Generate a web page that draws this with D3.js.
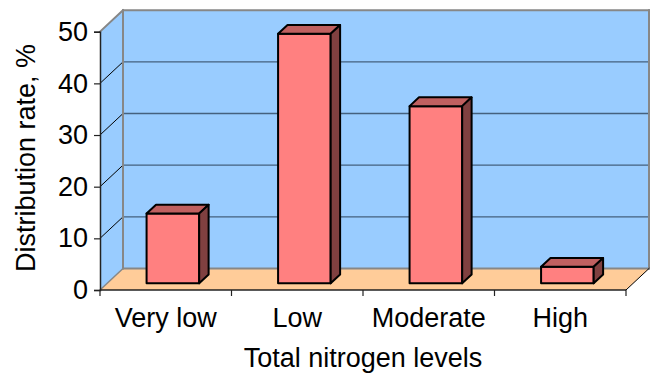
<!DOCTYPE html>
<html>
<head>
<meta charset="utf-8">
<script src="https://cdn.jsdelivr.net/npm/d3@7/dist/d3.min.js"></script>
<style>
  html, body { margin: 0; padding: 0; background: #ffffff; }
  svg { display: block; }
  text { font-family: "Liberation Sans", Arial, sans-serif; fill: #000; }
</style>
</head>
<body>
<svg id="chart" width="657" height="373"></svg>
<script>
// Distribution of soil total nitrogen levels
const categories = ["Very low", "Low", "Moderate", "High"];
const values = [13.5, 48.3, 34.3, 3.2];
const yTicks = [0, 10, 20, 30, 40, 50];
const yTitle = "Distribution rate, %";
const xTitle = "Total nitrogen levels";

const W = 657, H = 373;
const FONT = 27;
const svg = d3.select("#chart");

// front plane of the 3-D box
const plot = { left: 100, right: 626, bottom: 290, top: 31.7 };
// offset from the front plane to the back wall
const depth = { dx: 23, dy: -21.5 };
// bars sit between these fractions of the depth
const barFront = 0.31, barBack = 0.72;

const x = d3.scaleBand()
  .domain(categories)
  .range([plot.left, plot.right])
  .paddingInner(0.6)
  .paddingOuter(0.3);

const y = d3.scaleLinear()
  .domain([0, 50])
  .range([plot.bottom, plot.top]);

const P = (px, py, f) => [px + f * depth.dx, py + f * depth.dy];
const poly = pts => pts.map(p => p.join(",")).join(" ");

// floor
svg.append("polygon")
  .attr("points", poly([
    P(plot.left, y(0), 0), P(plot.right, y(0), 0),
    P(plot.right, y(0), 1), P(plot.left, y(0), 1)
  ]))
  .attr("fill", "#FFCC99");

// left side wall
svg.append("polygon")
  .attr("points", poly([
    P(plot.left, y(50), 0), P(plot.left, y(50), 1),
    P(plot.left, y(0), 1), P(plot.left, y(0), 0)
  ]))
  .attr("fill", "#99CCFF");

// back wall
svg.append("polygon")
  .attr("points", poly([
    P(plot.left, y(50), 1), P(plot.right, y(50), 1),
    P(plot.right, y(0), 1), P(plot.left, y(0), 1)
  ]))
  .attr("fill", "#99CCFF");

// gridlines on the back wall and side wall
const gridVals = yTicks.filter(v => v > 0 && v < 50);
svg.selectAll("line.grid-back")
  .data(gridVals)
  .join("line")
  .attr("class", "grid-back")
  .attr("x1", P(plot.left, 0, 1)[0])
  .attr("x2", P(plot.right, 0, 1)[0])
  .attr("y1", d => P(0, y(d), 1)[1])
  .attr("y2", d => P(0, y(d), 1)[1])
  .attr("stroke", "#45617e")
  .attr("stroke-width", 1.3);

svg.selectAll("line.grid-side")
  .data(gridVals)
  .join("line")
  .attr("class", "grid-side")
  .attr("x1", plot.left)
  .attr("y1", d => y(d))
  .attr("x2", P(plot.left, 0, 1)[0])
  .attr("y2", d => P(0, y(d), 1)[1])
  .attr("stroke", "#000")
  .attr("stroke-width", 1);

// wall edges
const edge = (a, b, col, w) => svg.append("line")
  .attr("x1", a[0]).attr("y1", a[1]).attr("x2", b[0]).attr("y2", b[1])
  .attr("stroke", col).attr("stroke-width", w).attr("stroke-linecap", "square");
const grey = "#878787";
edge(P(plot.left, y(50), 0), P(plot.left, y(50), 1), grey, 2);
edge(P(plot.left, y(50), 1), P(plot.right, y(50), 1), grey, 2);
edge(P(plot.right, y(50), 1), P(plot.right, y(0), 1), grey, 2);
edge(P(plot.left, y(50), 1), P(plot.left, y(0), 1), grey, 2);
edge(P(plot.left, y(0), 1), P(plot.right, y(0), 1), grey, 2);
edge(P(plot.left, y(0), 0), P(plot.left, y(0), 1), grey, 1.5);
edge(P(plot.right, y(0), 0), P(plot.right, y(0), 1), "#000", 1);

// bars
const bars = svg.append("g").attr("stroke", "#000").attr("stroke-width", 2)
  .attr("stroke-linejoin", "round");
categories.forEach((c, i) => {
  const x0 = x(c), x1 = x(c) + x.bandwidth();
  const yt = y(values[i]), yb = y(0);
  // front face
  bars.append("polygon")
    .attr("points", poly([P(x0, yt, barFront), P(x1, yt, barFront),
                          P(x1, yb, barFront), P(x0, yb, barFront)]))
    .attr("fill", "#FF8080");
  // top face
  bars.append("polygon")
    .attr("points", poly([P(x0, yt, barFront), P(x1, yt, barFront),
                          P(x1, yt, barBack), P(x0, yt, barBack)]))
    .attr("fill", "#C06060");
  // side face
  bars.append("polygon")
    .attr("points", poly([P(x1, yt, barFront), P(x1, yt, barBack),
                          P(x1, yb, barBack), P(x1, yb, barFront)]))
    .attr("fill", "#804040");
});

// value axis
const yAxis = svg.append("g").attr("transform", `translate(${plot.left},0)`)
  .call(d3.axisLeft(y).tickValues(yTicks).tickSize(6).tickPadding(6).tickFormat(d3.format("d")));
yAxis.select(".domain").attr("stroke", "#222").attr("stroke-width", 1.5);
yAxis.selectAll(".tick line").attr("stroke", "#222").attr("stroke-width", 1.2);
yAxis.selectAll(".tick text").attr("font-size", FONT)
  .attr("font-family", "Liberation Sans, Arial, sans-serif").attr("fill", "#000");

// category axis: line with ticks at the category boundaries
svg.append("line")
  .attr("x1", plot.left).attr("x2", plot.right)
  .attr("y1", y(0)).attr("y2", y(0))
  .attr("stroke", "#222").attr("stroke-width", 1.5);
const bounds = d3.range(categories.length + 1).map(i => plot.left + i * x.step());
svg.selectAll("line.xtick")
  .data(bounds)
  .join("line")
  .attr("class", "xtick")
  .attr("x1", d => d).attr("x2", d => d)
  .attr("y1", y(0)).attr("y2", y(0) + 6)
  .attr("stroke", "#222").attr("stroke-width", 1.2);

svg.selectAll("text.xlabel")
  .data(categories)
  .join("text")
  .attr("class", "xlabel")
  .attr("x", (d, i) => plot.left + (i + 0.5) * x.step())
  .attr("y", 326.7)
  .attr("text-anchor", "middle")
  .attr("font-size", FONT)
  .text(d => d);

// axis titles
svg.append("text")
  .attr("x", (plot.left + plot.right) / 2)
  .attr("y", 366.5)
  .attr("text-anchor", "middle")
  .attr("font-size", FONT)
  .text(xTitle);

svg.append("text")
  .attr("transform", "translate(35,158) rotate(-90)")
  .attr("text-anchor", "middle")
  .attr("font-size", FONT)
  .text(yTitle);
</script>
</body>
</html>
